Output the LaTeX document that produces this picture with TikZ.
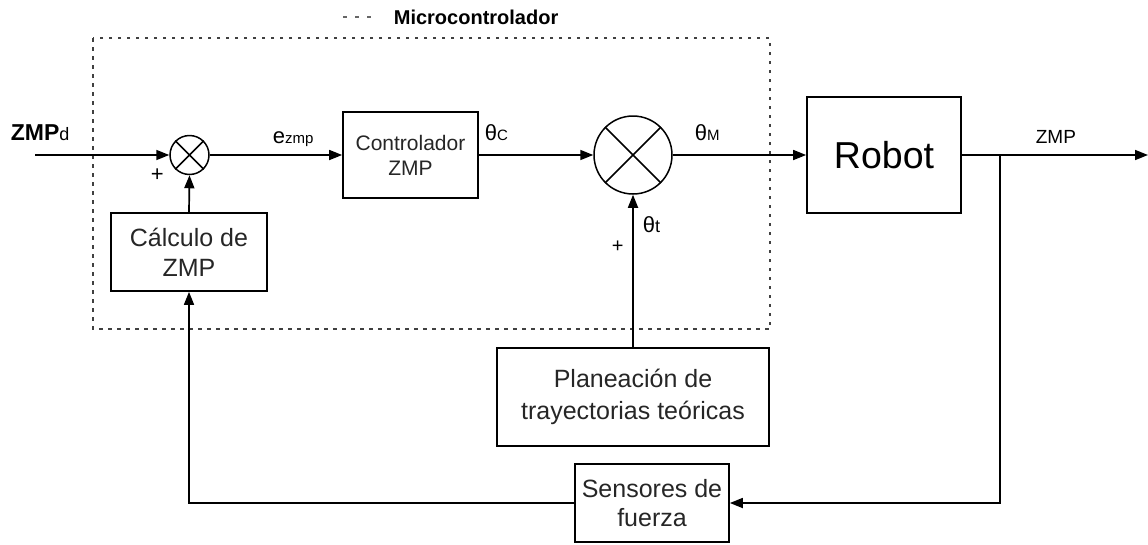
\documentclass[tikz,border=0pt]{standalone}
\usepackage{fontspec}
\setmainfont{Liberation Sans}
\usetikzlibrary{arrows.meta}
\newcommand\fsz[1]{\fontsize{#1}{#1}\selectfont}
\begin{document}
\begin{tikzpicture}[x=1pt,y=-1pt,
  line width=1.7pt,
  arr/.style={-{Triangle[length=13pt,width=10pt]}},
  blk/.style={draw, rectangle, inner sep=0pt, align=center, text=black!85},
  sumnode/.style={draw, circle, inner sep=0pt, line width=1.5pt},
  lbl/.style={anchor=base west, inner sep=0pt}
]
\useasboundingbox (0,0) rectangle (1148,544);
% microcontroller frame
\draw[black!75, line width=1.8pt, dash pattern=on 3.5pt off 5.5pt] (93,38) rectangle (770,329);
\coordinate (lg1) at (343,17);
\coordinate (lg2) at (377,17);
\draw[black!60, line width=1.6pt, dash pattern=on 4pt off 8pt] (lg1) -- (lg2);
\node[lbl] (legend) at (393,24) {\fsz{20}\bfseries Microcontrolador};

% blocks
\node[sumnode, minimum size=39pt] (s1) at (189.5,155) {};
\node[sumnode, minimum size=78pt] (s2) at (633,155) {};
\draw[line width=1.5pt] (s1.45) -- (s1.225) (s1.135) -- (s1.315);
\draw[line width=1.5pt] (s2.45) -- (s2.225) (s2.135) -- (s2.315);

\node[blk, minimum width=135pt, minimum height=86pt, font=\fontsize{21}{25}\selectfont] (ctrl) at (410.5,155)
  {Controlador\\ZMP};
\node[blk, minimum width=156pt, minimum height=78pt, font=\fontsize{25}{30}\selectfont] (calc) at (189,252)
  {Cálculo de\\ZMP};
\node[blk, minimum width=154pt, minimum height=116pt, text=black, font=\fsz{37.5}] (robot) at (884,155)
  {Robot};
\node[blk, minimum width=272pt, minimum height=98pt, font=\fontsize{25}{32}\selectfont] (plan) at (633,397)
  {Planeación de\\trayectorias teóricas};
\node[blk, minimum width=154pt, minimum height=78pt, font=\fontsize{25}{29}\selectfont] (sens) at (652,503)
  {Sensores de\\fuerza};

% coordinates
\coordinate (in) at (35,155);
\coordinate (out) at (1148,155);
\coordinate (br) at (1000,155);
\coordinate (brd) at (1000,503);
\coordinate (fbl) at (189,503);

% connectors
\draw[arr] (in) -- (s1.west);
\draw[arr] (s1.east) -- (ctrl.west);
\draw[arr] (ctrl.east) -- (s2.west);
\draw[arr] (s2.east) -- (robot.west);
\draw[arr] (robot.east) -- (out);
\draw[arr] (br) -- (brd) -- (sens.east);
\draw[arr] (sens.west) -- (fbl) -- (calc.south);
\draw[arr] (calc.north) -- (s1.south);
\draw[arr] (plan.north) -- (s2.south);

% labels
\node[lbl] (lzmpd) at (10,140) {\fsz{23}\bfseries ZMP{\fsz{18}\mdseries d}};
\node[lbl] (lplus1) at (150,181) {\fsz{22}+};
\node[lbl] (lez) at (272,143) {{\fsz{22}e}{\fsz{15}zmp}};
\node[lbl] (lthc) at (484,140) {{\fsz{22}θ}{\fsz{15}C}};
\node[lbl] (lthm) at (694,140) {{\fsz{22}θ}{\fsz{15}M}};
\node[lbl] (ltht) at (642,232) {{\fsz{22}θ}{\fsz{18}t}};
\node[lbl] (lplus2) at (611,252) {\fsz{20}+};
\node[lbl] (lzmp) at (1035,143) {\fsz{19}ZMP};
\end{tikzpicture}
\end{document}
